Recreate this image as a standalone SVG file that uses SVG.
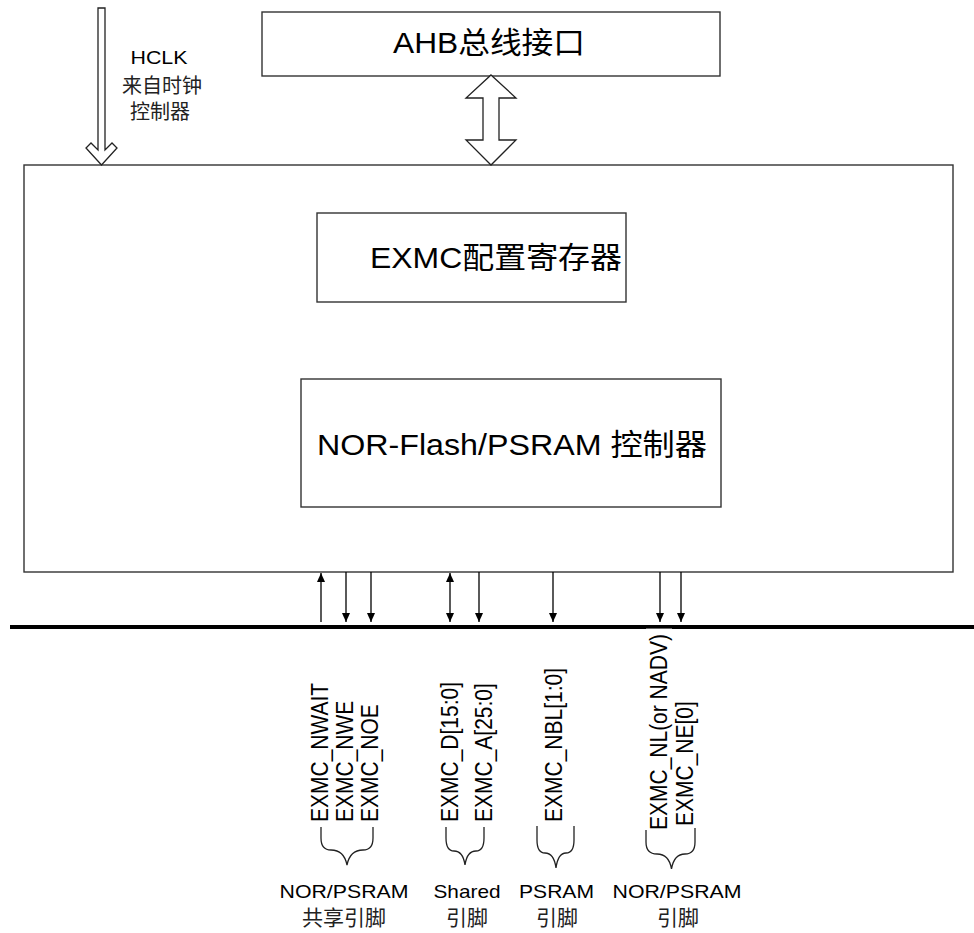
<svg xmlns="http://www.w3.org/2000/svg" width="974" height="933" viewBox="0 0 974 933">
<style>
.box{fill:#fff;stroke:#333;stroke-width:1.4}
.t{font-family:"Liberation Sans","Noto Sans CJK SC",sans-serif;fill:#000}
.cjk{font-family:"Liberation Sans","Noto Sans CJK SC",sans-serif;fill:#222}
.big{font-size:30px}
.sm{font-size:18.6px}
.pin{font-size:21px}
.conn{stroke:#000;stroke-width:1.3;fill:none}
.brace{stroke:#222;stroke-width:1.3;fill:none}
.outline{fill:#fff;stroke:#222;stroke-width:1.3;stroke-linejoin:miter}
</style>
<defs>
<marker id="ah" markerUnits="userSpaceOnUse" markerWidth="9" markerHeight="8" refX="9" refY="4" orient="auto-start-reverse">
<path d="M0,0 L9,4 L0,8 z" fill="#000"/>
</marker>
</defs>
<rect width="974" height="933" fill="#fff"/>

<g id="exmc-main">
<rect class="box" x="24" y="165" width="929" height="407"/>
</g>

<g id="ahb">
<rect class="box" x="262" y="12" width="458" height="64"/>
<text class="t big" x="489" y="53" text-anchor="middle" textLength="192" lengthAdjust="spacingAndGlyphs">AHB总线接口</text>
</g>

<g id="exmc-config">
<rect class="box" x="317" y="213" width="309" height="89"/>
<text class="t big" x="370" y="268" textLength="252" lengthAdjust="spacingAndGlyphs">EXMC配置寄存器</text>
</g>

<g id="nor-ctrl">
<rect class="box" x="301" y="379" width="420" height="128"/>
<text class="t big" x="317" y="455" textLength="390" lengthAdjust="spacingAndGlyphs">NOR-Flash/PSRAM 控制器</text>
</g>

<g id="hclk">
<text class="t sm" x="159" y="63.5" text-anchor="middle" textLength="57" lengthAdjust="spacingAndGlyphs">HCLK</text>
<text class="cjk" font-size="20" x="162" y="93" text-anchor="middle">来自时钟</text>
<text class="cjk" font-size="20" x="160" y="118.5" text-anchor="middle">控制器</text>
</g>

<g id="bus">
<line x1="10" y1="627" x2="974" y2="627" stroke="#000" stroke-width="4"/>
<rect x="646" y="628.6" width="26" height="2.6" fill="#fff"/>
</g>

<g id="connectors">
<polygon class="outline" points="98,8 105,8 105,150 112,143 117,148 101.5,165 86,148 91,143 98,150"/>
<polygon class="outline" points="491,75 516,98 499,98 499,140 516,140 491,165 466,140 483,140 483,98 466,98"/>
<line class="conn" x1="321" y1="622" x2="321" y2="573" marker-end="url(#ah)"/>
<line class="conn" x1="346" y1="572" x2="346" y2="622" marker-end="url(#ah)"/>
<line class="conn" x1="371" y1="572" x2="371" y2="622" marker-end="url(#ah)"/>
<line class="conn" x1="450" y1="573" x2="450" y2="622" marker-start="url(#ah)" marker-end="url(#ah)"/>
<line class="conn" x1="479" y1="572" x2="479" y2="622" marker-end="url(#ah)"/>
<line class="conn" x1="553" y1="572" x2="553" y2="622" marker-end="url(#ah)"/>
<line class="conn" x1="660" y1="572" x2="660" y2="622" marker-end="url(#ah)"/>
<line class="conn" x1="681" y1="572" x2="681" y2="622" marker-end="url(#ah)"/>
</g>

<g id="pin-labels">
<text class="t pin" transform="translate(328,822) rotate(-90) scale(1,1.12)">EXMC_NWAIT</text>
<text class="t pin" transform="translate(353,822) rotate(-90) scale(1,1.12)">EXMC_NWE</text>
<text class="t pin" transform="translate(378,822) rotate(-90) scale(1,1.12)">EXMC_NOE</text>
<text class="t pin" transform="translate(458,822) rotate(-90) scale(1,1.12)">EXMC_D[15:0]</text>
<text class="t pin" transform="translate(491.5,822) rotate(-90) scale(1,1.12)">EXMC_A[25:0]</text>
<text class="t pin" transform="translate(561.5,822) rotate(-90) scale(1,1.12)">EXMC_NBL[1:0]</text>
<text class="t pin" transform="translate(666.5,830) rotate(-90) scale(1,1.12)">EXMC_NL(or NADV)</text>
<text class="t pin" transform="translate(693,826) rotate(-90) scale(1,1.12)">EXMC_NE[0]</text>
</g>

<g id="braces">
<path class="brace" d="M321,827 L321,838 Q321,850 331,850 Q344,850 347,865 Q350,850 363,850 Q373,850 373,838 L373,827"/>
<path class="brace" d="M446,827 L446,838 Q446,851 454,851 Q463,851 465,865 Q467,851 476,851 Q484,851 484,838 L484,827"/>
<path class="brace" d="M537,826 L537,840 Q537,853 545,853 Q554,853 556,868 Q558,853 566,853 Q574,853 574,840 L574,826"/>
<path class="brace" d="M646,830 L646,842 Q646,854 657,854 Q669,854 671.5,869 Q674,854 685,854 Q695,854 695,842 L695,828"/>
</g>

<g id="group-nor-psram-shared">
<text class="t sm" x="344" y="898" text-anchor="middle" textLength="129" lengthAdjust="spacingAndGlyphs">NOR/PSRAM</text>
<text class="cjk" font-size="21" x="344" y="925" text-anchor="middle">共享引脚</text>
</g>
<g id="group-shared">
<text class="t sm" x="467" y="898" text-anchor="middle" textLength="67" lengthAdjust="spacingAndGlyphs">Shared</text>
<text class="cjk" font-size="21" x="467" y="925" text-anchor="middle">引脚</text>
</g>
<g id="group-psram">
<text class="t sm" x="556.5" y="898" text-anchor="middle" textLength="75" lengthAdjust="spacingAndGlyphs">PSRAM</text>
<text class="cjk" font-size="21" x="557" y="925" text-anchor="middle">引脚</text>
</g>
<g id="group-nor-psram">
<text class="t sm" x="677" y="898" text-anchor="middle" textLength="129" lengthAdjust="spacingAndGlyphs">NOR/PSRAM</text>
<text class="cjk" font-size="21" x="678" y="925" text-anchor="middle">引脚</text>
</g>
</svg>
